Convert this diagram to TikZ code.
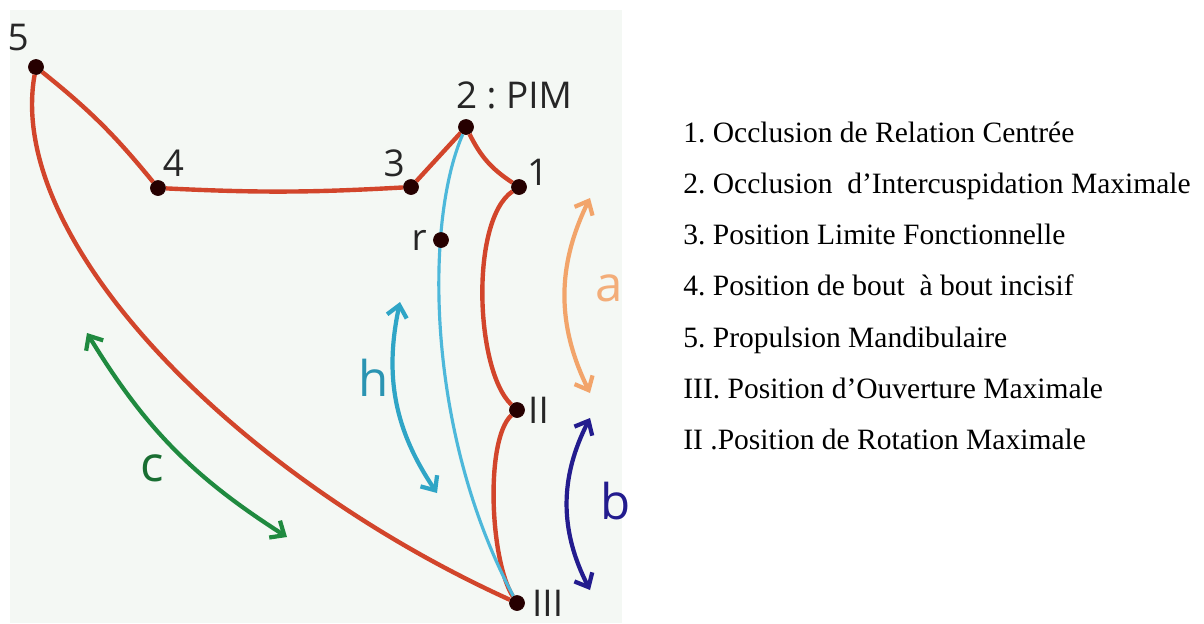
\documentclass[tikz,border=0pt]{standalone}
\usepackage{fontspec}
\setmainfont{Liberation Serif}
\newfontfamily\labelfont{Open Sans}
\usetikzlibrary{arrows.meta,positioning}
\frenchspacing

\definecolor{pathred}{HTML}{D2452B}
\definecolor{hingeblue}{HTML}{4DB8DA}
\definecolor{arcA}{HTML}{F2A46A}
\definecolor{arcB}{HTML}{231C8E}
\definecolor{arcH}{HTML}{2FA5C6}
\definecolor{arcC}{HTML}{1F8A3F}
\definecolor{panel}{HTML}{F4F8F4}

\tikzset{
  dot/.style={fill=black!85!red,draw=black!85!red,circle,inner sep=0pt,minimum size=0.3cm},
  lbl/.style={font=\labelfont\fontsize{21}{21}\selectfont,inner sep=0pt,text=black!85},
  arclbl/.style={font=\labelfont\fontsize{28}{28}\selectfont,inner sep=0pt},
  trace/.style={draw=pathred,line width=2.5pt},
  hinge/.style={draw=hingeblue,line width=1.8pt},
  swing/.style={line width=2.4pt,{Straight Barb[length=2.3mm,width=4mm]}-{Straight Barb[length=2.3mm,width=4mm]}},
  legend/.style={anchor=base west,inner sep=0pt,font=\fontsize{16.8}{20}\selectfont}
}

\begin{document}
\begin{tikzpicture}[x=0.02cm,y=-0.02cm]
	\useasboundingbox (0,0) rectangle (1204,623);
	% the panel behind the diagram
	\fill[panel] (10,10) rectangle (622,623);

	%% the positions
	\node[dot,label={[lbl,label distance=0.18cm]114:5}] (p5) at (36,67) {};
	\node[dot,label={[lbl,label distance=0.08cm]68:4}] (p4) at (158,188) {};
	\node[dot,label={[lbl,label distance=0.08cm]120:3}] (p3) at (411,187) {};
	\node[dot,label={[lbl,xshift=0.96cm,yshift=0.19cm]above:2 : PIM}] (p2) at (466,127) {};
	\node[dot,label={[lbl,label distance=0cm]10:1}] (p1) at (519,187) {};
	\node[dot,label={[lbl,label distance=0.06cm]right:II}] (pII) at (517,410) {};
	\node[dot,label={[lbl,label distance=0.14cm]right:III}] (pIII) at (517,603) {};

	%% the border movements
	\draw[trace] (p5) to[bend left=6] (p4);
	\draw[trace] (p4) to[bend right=3] (p3);
	\draw[trace] (p3) -- (p2);
	\draw[trace] (p2) to[bend right=15] (p1);
	\draw[trace] (p1) .. controls (470,220) and (475,370) .. (pII);
	\draw[trace] (pII) .. controls (485,440) and (490,560) .. (pIII);
	\draw[trace] (p5) .. controls (5,240) and (235,475) .. (pIII);
	% hinge opening
	\draw[hinge] (p2) .. controls (425,220) and (425,430) .. (pIII);
	\node[dot,label={[lbl,label distance=0.12cm]left:r}] (pr) at (441,240) {};

	%% the arcs
	\coordinate (aTop) at (590,198);
	\coordinate (aBot) at (590,393);
	\coordinate (bTop) at (590,418);
	\coordinate (bBot) at (590,590);
	\coordinate (hTop) at (400,302);
	\coordinate (hBot) at (437,493);
	\coordinate (cTop) at (87,333);
	\coordinate (cBot) at (287,537);
	\draw[swing,arcA] (aTop) to[bend right=26] (aBot);
	\draw[swing,arcB] (bTop) to[bend right=27] (bBot);
	\draw[swing,arcH] (hTop) to[bend right=23] (hBot);
	\draw[swing,arcC] (cTop) to[bend right=13] (cBot);
	\node[arclbl,text=arcA!90!white] (la) at (609,288) {a};
	\node[arclbl,text=arcB] (lb) at (616,501) {b};
	\node[arclbl,text=arcH!90!black] (lh) at (374,378) {h};
	\node[arclbl,text=arcC!80!black] (lc) at (152,468) {c};

	%% the legend
	\node[legend] (l1) at (683,142) {1. Occlusion de Relation Centrée};
	\node[legend] (l2) at (683,193.3) {2. Occlusion\ \ d’Intercuspidation Maximale};
	\node[legend] (l3) at (683,244.6) {3. Position Limite Fonctionnelle};
	\node[legend] (l4) at (683,295.9) {4. Position de bout\ \ à bout incisif};
	\node[legend] (l5) at (683,347.2) {5. Propulsion Mandibulaire};
	\node[legend] (l6) at (683,398.5) {III. Position d’Ouverture Maximale};
	\node[legend] (l7) at (683,449.8) {II .Position de Rotation Maximale};
\end{tikzpicture}
\end{document}
